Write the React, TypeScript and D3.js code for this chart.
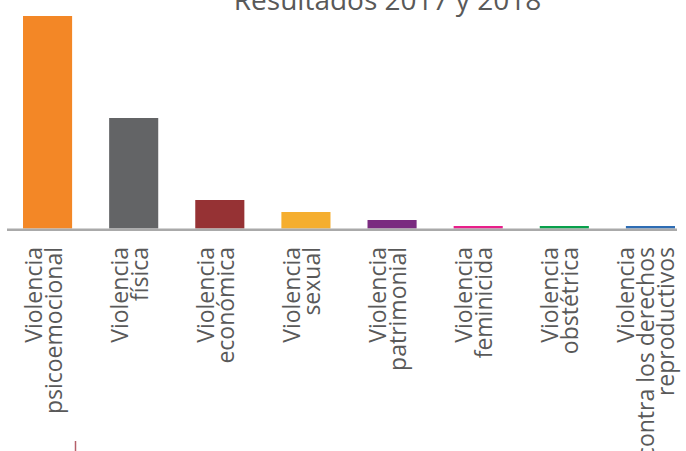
import React from "react";
import * as d3 from "d3";

const title = "Resultados 2017 y 2018";
const categories: string[][] = [
  ["Violencia", "psicoemocional"],
  ["Violencia", "física"],
  ["Violencia", "económica"],
  ["Violencia", "sexual"],
  ["Violencia", "patrimonial"],
  ["Violencia", "feminicida"],
  ["Violencia", "obstétrica"],
  ["Violencia", "contra los derechos", "reproductivos"],
];
const values = [850, 442, 114, 66, 34, 10, 10, 10];
const colors = [
  "#f38726",
  "#636466",
  "#963234",
  "#f5ae2f",
  "#7a2b80",
  "#e81f8a",
  "#08a04b",
  "#2e6db4",
];

const W = 686;
const H = 451;

export default function App() {
  const keys = categories.map((c) => c.join(" "));
  const x = d3
    .scaleBand<string>()
    .domain(keys)
    .range([4.5, 693.5])
    .paddingInner(0.43)
    .paddingOuter(0.215);
  const y = d3.scaleLinear().domain([0, 850]).range([228.5, 16]);
  const font = "'Open Sans', 'DejaVu Sans', sans-serif";
  const textColor = "#595959";
  const lineH = 20;

  return (
    <svg
      width={W}
      height={H}
      style={{ position: "absolute", left: 0, top: 0, background: "#fff" }}
    >
      <text
        x={387.5}
        y={10}
        textAnchor="middle"
        fontFamily={font}
        fontSize={28}
        fill={textColor}
      >
        {title}
      </text>
      {values.map((v, i) => (
        <rect
          key={keys[i]}
          x={x(keys[i])}
          y={y(v)}
          width={x.bandwidth()}
          height={y(0) - y(v)}
          fill={colors[i]}
        />
      ))}
      <line
        x1={7}
        x2={677}
        y1={229.75}
        y2={229.75}
        stroke="#aaaaaa"
        strokeWidth={2.5}
      />
      {categories.map((lines, i) => {
        const cx = (x(keys[i]) as number) + x.bandwidth() / 2;
        const n = lines.length;
        const b1 = 4 - ((n - 1) * lineH) / 2;
        return (
          <g key={keys[i]} transform={`translate(${cx},247) rotate(-90)`}>
            <text
              textAnchor="end"
              fontFamily={font}
              fontSize={23}
              fill={textColor}
            >
              {lines.map((l, k) => (
                <tspan key={k} x={0} y={b1 + k * lineH}>
                  {l}
                </tspan>
              ))}
            </text>
          </g>
        );
      })}
      <line
        x1={75.5}
        x2={75.5}
        y1={441}
        y2={451}
        stroke="#b5606a"
        strokeWidth={1.5}
      />
    </svg>
  );
}
